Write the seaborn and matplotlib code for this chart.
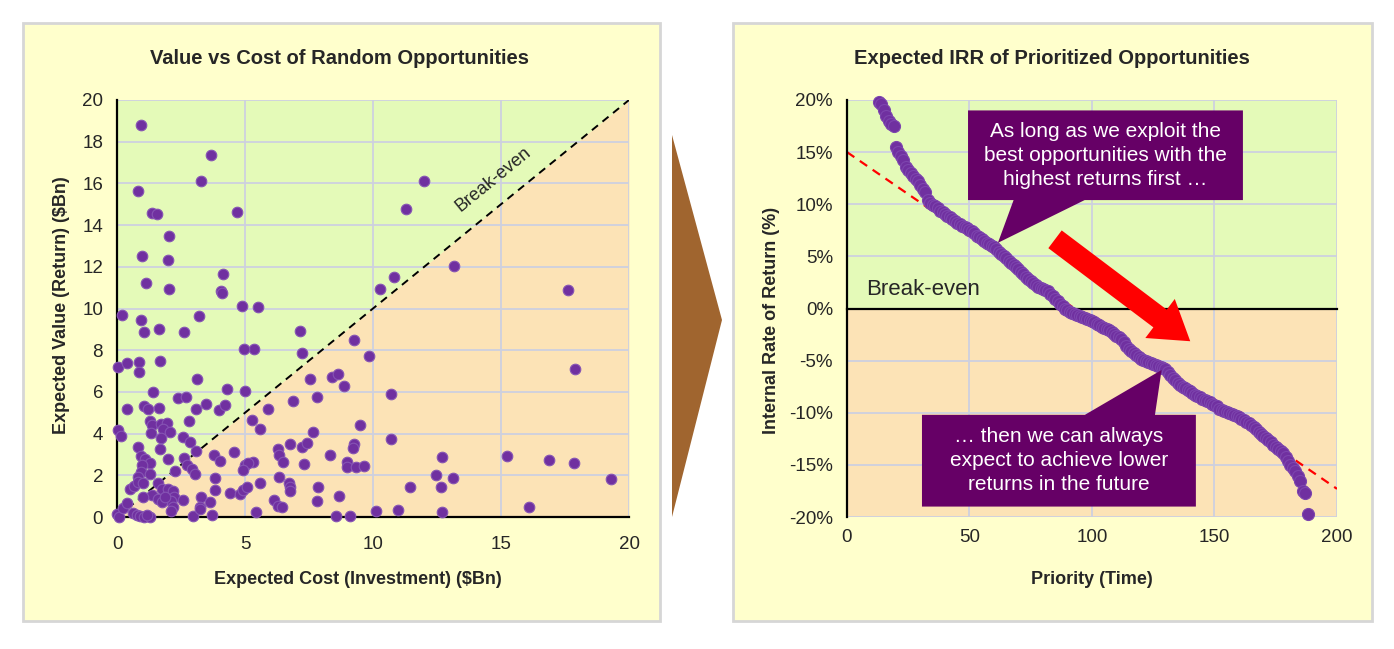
import numpy as np
import pandas as pd
import matplotlib.pyplot as plt
import seaborn as sns
from matplotlib.patches import Rectangle, Polygon

# ---- left chart: expected cost vs expected value ($Bn) ----
cost = [0.93, 3.67, 3.27, 0.82, 1.38, 1.57, 4.67, 2.04, 0.99, 1.98, 4.14, 1.15, 2.02, 4.07, 4.10, 4.87, 5.52,
        11.99, 11.30, 10.82, 10.27,
        13.16, 17.62, 17.90, 12.70, 15.25, 16.86, 17.84, 13.12, 12.66, 19.30, 16.10, 12.70,
        7.14, 5.36, 7.21, 9.26, 9.84, 7.54, 8.41, 8.65, 8.85, 10.72, 6.88, 7.82, 5.90, 5.26, 5.60, 9.50,
        7.64, 10.72, 6.77, 7.24, 7.41, 6.30, 6.34, 6.50, 5.30, 8.33, 7.32, 9.26, 9.22, 9.00, 8.97, 9.34,
        9.66, 12.45, 11.45, 5.60, 6.34, 6.72, 6.77, 6.77, 7.86, 8.66, 6.13, 6.30, 6.46, 7.82, 5.44, 8.55,
        9.10, 10.13, 10.96,
        0.18, 0.93, 3.21, 1.07, 1.63, 2.60, 4.97, 0.05, 0.38, 0.87, 0.86, 1.69, 3.14, 1.39, 2.37, 2.70,
        4.31, 5.01, 0.38, 1.04, 1.20, 1.65, 3.09, 3.48, 3.97, 4.23, 1.29, 1.35, 1.71, 1.96, 1.81, 2.07,
        1.34, 2.83, 0.03, 0.17, 1.73, 1.67, 2.57, 2.85, 3.07, 0.81, 0.93, 1.09, 1.29, 0.98, 1.99, 2.60,
        3.80, 4.02, 4.57, 0.93, 0.82, 1.29, 2.27, 2.72, 2.93, 3.06, 3.84, 4.99, 5.13, 4.93, 0.51, 0.68,
        0.81, 1.00, 1.61, 1.76, 1.99, 2.19, 2.23, 2.10, 2.18, 2.11, 1.37, 1.60, 1.76, 1.89, 1.00, 2.57,
        3.27, 3.23, 3.63, 3.84, 4.41, 4.80, 4.91, 5.07, 2.96, 3.24, 3.70, 0.00, 0.08, 0.25, 0.38, 0.61,
        0.77, 0.90, 1.07, 1.29, 1.16]
value = [18.80, 17.36, 16.10, 15.65, 14.58, 14.53, 14.63, 13.50, 12.53, 12.33, 11.64, 11.22, 10.92, 10.85, 10.73, 10.13, 10.09,
         16.10, 14.76, 11.53, 10.92,
         12.04, 10.87, 7.11, 2.88, 2.93, 2.73, 2.57, 1.89, 1.42, 1.82, 0.46, 0.25,
         8.90, 8.04, 7.85, 8.50, 7.71, 6.60, 6.70, 6.86, 6.28, 5.90, 5.55, 5.74, 5.20, 4.65, 4.22, 4.43,
         4.09, 3.73, 3.52, 3.37, 3.53, 3.25, 2.97, 2.62, 2.62, 2.99, 2.53, 3.50, 3.31, 2.62, 2.38, 2.38,
         2.45, 2.03, 1.42, 1.65, 1.93, 1.65, 1.45, 1.26, 1.45, 1.02, 0.82, 0.54, 0.46, 0.75, 0.24, 0.06,
         0.06, 0.27, 0.34,
         9.67, 9.46, 9.62, 8.86, 9.00, 8.89, 8.06, 7.21, 7.37, 7.42, 6.97, 7.50, 6.60, 6.00, 5.71, 5.74,
         6.14, 6.04, 5.20, 5.32, 5.17, 5.21, 5.17, 5.43, 5.13, 5.36, 4.62, 4.40, 4.45, 4.49, 4.22, 4.06,
         4.04, 4.62, 4.16, 3.87, 3.79, 3.28, 3.85, 3.61, 3.17, 3.36, 2.93, 2.77, 2.58, 2.49, 2.77, 2.83,
         2.99, 2.67, 3.12, 2.17, 1.93, 2.08, 2.22, 2.48, 2.29, 2.06, 1.89, 2.49, 2.58, 2.25, 1.33, 1.50,
         1.69, 1.62, 1.62, 1.33, 1.36, 1.25, 0.97, 0.77, 0.47, 0.30, 1.04, 0.88, 0.72, 0.94, 0.94, 0.82,
         0.96, 0.47, 0.72, 1.29, 1.14, 1.10, 1.29, 1.42, 0.05, 0.37, 0.10, 0.13, 0.01, 0.42, 0.66, 0.20,
         0.10, 0.05, 0.00, 0.00, 0.10]

# ---- right chart: IRR (%) of opportunities sorted by priority ----
priority = list(range(13, 189))
irr = [19.8, 19.6, 19.0, 18.5, 18.0, 17.7, 17.5, 15.5, 15.0, 14.6, 14.2, 13.6, 13.3, 13.0, 12.7, 12.4,
       12.2, 11.8, 11.5, 11.2, 10.4, 10.1, 9.9, 9.8, 9.6, 9.4, 9.3, 9.1, 8.9, 8.8, 8.6, 8.4,
       8.2, 8.1, 7.9, 7.8, 7.7, 7.5, 7.4, 7.2, 7.0, 6.9, 6.7, 6.5, 6.3, 6.2, 6.0, 5.9,
       5.7, 5.4, 5.2, 5.0, 4.8, 4.6, 4.4, 4.2, 4.0, 3.8, 3.5, 3.3, 3.0, 2.8, 2.6, 2.4,
       2.3, 2.1, 2.0, 1.9, 1.8, 1.7, 1.4, 1.2, 0.9, 0.7, 0.4, 0.2, 0.0, -0.1, -0.3, -0.4,
       -0.5, -0.6, -0.7, -0.8, -0.9, -1.0, -1.1, -1.2, -1.3, -1.5, -1.6, -1.8, -1.9, -2.0, -2.1, -2.3,
       -2.4, -2.6, -2.7, -2.9, -3.2, -3.6, -3.9, -4.1, -4.3, -4.5, -4.7, -4.8, -4.9, -5.0, -5.1, -5.2,
       -5.3, -5.4, -5.5, -5.6, -5.7, -5.8, -6.1, -6.4, -6.7, -6.9, -7.1, -7.3, -7.5, -7.6, -7.8, -7.9,
       -8.1, -8.3, -8.4, -8.5, -8.7, -8.8, -8.9, -9.0, -9.2, -9.3, -9.4, -9.6, -9.7, -9.8, -9.9, -10.0,
       -10.1, -10.2, -10.3, -10.4, -10.6, -10.7, -10.9, -11.0, -11.2, -11.4, -11.6, -11.8, -12.0, -12.2, -12.4, -12.6,
       -12.8, -13.1, -13.3, -13.5, -13.7, -13.9, -14.2, -14.6, -15.0, -15.3, -15.6, -16.1, -16.5, -17.5, -17.7, -19.7]
trend_x = [0, 200]
trend_y = [15.0, -17.3]

left_xticks = [0, 5, 10, 15, 20]
left_yticks = list(range(0, 21, 2))
right_xticks = [0, 50, 100, 150, 200]
right_yticks = [-20, -15, -10, -5, 0, 5, 10, 15, 20]

opps = pd.DataFrame({'cost': cost, 'value': value})
ranked = pd.DataFrame({'priority': priority, 'irr': irr})

GREEN = '#E4FAB8'
PEACH = '#FCE3B6'
PURPLE = '#7030A0'
GRID = '#CDD0DF'

sns.set_style('white')
plt.rcParams['font.family'] = ['Liberation Sans', 'DejaVu Sans']
narrow = ['Liberation Sans Narrow', 'Liberation Sans', 'DejaVu Sans']

W, H = 1394, 649
fig = plt.figure(figsize=(W / 100, H / 100), dpi=100)


def px_box(x0, y0, x1, y1):
    return [x0 / W, 1 - y1 / H, (x1 - x0) / W, (y1 - y0) / H]


# panel backgrounds and the brown arrow between them
for x0, x1 in [(23, 660), (733, 1372)]:
    fig.patches.append(Rectangle((x0 / W, 1 - 621 / H), (x1 - x0) / W, 598 / H,
                                 transform=fig.transFigure, facecolor='#FFFFCC',
                                 edgecolor='#D6D6D6', lw=2, zorder=-2))
fig.patches.append(Polygon([(672 / W, 1 - 135 / H), (722 / W, 1 - 320 / H), (672 / W, 1 - 517 / H)],
                           closed=True, transform=fig.transFigure, facecolor='#A0652F',
                           edgecolor='none', zorder=-2))

ax1 = fig.add_axes(px_box(117, 100, 629, 517))
ax2 = fig.add_axes(px_box(847, 100, 1337, 517))
for ax in (ax1, ax2):
    ax.patch.set_alpha(0)

# Left chart
ax1.fill_between([0, 20], [0, 20], 20, color=GREEN, lw=0, zorder=0)
ax1.fill_between([0, 20], 0, [0, 20], color=PEACH, lw=0, zorder=0)
ax1.set_axisbelow(True)
ax1.grid(True, color=GRID, lw=1.3)
ax1.plot([0, 20], [0, 20], color='black', ls='--', lw=1.4, dashes=(4, 3), zorder=2)
sns.scatterplot(data=opps, x='cost', y='value', ax=ax1, s=58, color=PURPLE,
                edgecolor='#8654B4', linewidth=0.8, zorder=3, clip_on=False)
ax1.text(14.7, 16.2, 'Break-even', rotation=39.2, rotation_mode='anchor',
         ha='center', va='center', fontsize=13)
ax1.set_xlim(0, 20)
ax1.set_ylim(0, 20)
ax1.set_xticks(left_xticks)
ax1.set_yticks(left_yticks)
ax1.set_xlabel('')
ax1.set_ylabel('')

# Right chart
ax2.axhspan(0, 20, color=GREEN, lw=0, zorder=0)
ax2.axhspan(-20, 0, color=PEACH, lw=0, zorder=0)
ax2.set_axisbelow(True)
ax2.grid(True, color=GRID, lw=1.3)
ax2.plot(trend_x, trend_y, color='red', ls='--', lw=1.6, dashes=(4, 3), zorder=2)
sns.scatterplot(data=ranked, x='priority', y='irr', ax=ax2, s=75, color=PURPLE,
                edgecolor='#7D45AE', linewidth=0.8, zorder=3, clip_on=False)
ax2.text(7.8, 1.8, 'Break-even', ha='left', va='center', fontsize=16)
ax2.set_xlim(0, 200)
ax2.set_ylim(-20, 20)
ax2.set_xticks(right_xticks)
ax2.set_yticks(right_yticks)
ax2.set_yticklabels([f'{v}%' for v in right_yticks])
ax2.set_xlabel('')
ax2.set_ylabel('')
ax2.spines['bottom'].set_position(('data', 0))
ax2.tick_params(axis='x', labelbottom=False)
secax = ax2.secondary_xaxis('bottom')
secax.set_xticks(right_xticks)
secax.tick_params(length=0, pad=9, labelsize=13.5)
secax.spines['bottom'].set_visible(False)
for lab in secax.get_xticklabels():
    lab.set_family(narrow)

for ax in (ax1, ax2):
    for side in ('top', 'right'):
        ax.spines[side].set_visible(False)
    for side in ('left', 'bottom'):
        ax.spines[side].set_color('black')
        ax.spines[side].set_linewidth(1.6)
        ax.spines[side].set_zorder(2.5)
    ax.tick_params(direction='out', length=5, width=1.5, color='black', labelsize=13.5, pad=5)
    for lab in ax.get_xticklabels() + ax.get_yticklabels():
        lab.set_family(narrow)
ax1.tick_params(axis='x', pad=9)

# callout boxes
top_box = [(49.4, 19.0), (161.6, 19.0), (161.6, 10.4), (97.0, 10.4), (61.6, 6.3),
           (68.0, 10.4), (49.4, 10.4)]
bottom_box = [(30.6, -10.2), (97.1, -10.2), (128.4, -5.9), (125.7, -10.2), (142.4, -10.2),
              (142.4, -19.0), (30.6, -19.0)]
for pts in (top_box, bottom_box):
    ax2.add_patch(Polygon(pts, closed=True, facecolor='#660066', edgecolor='none',
                          zorder=5, clip_on=False))
ax2.text(105.5, 14.7, 'As long as we exploit the\nbest opportunities with the\nhighest returns first \u2026',
         ha='center', va='center', color='white', fontsize=15, linespacing=1.35, zorder=6)
ax2.text(86.5, -14.6, '\u2026 then we can always\nexpect to achieve lower\nreturns in the future',
         ha='center', va='center', color='white', fontsize=15, linespacing=1.35, zorder=6)
ax2.annotate('', xy=(141.0, -3.3), xytext=(84.0, 6.8),
             arrowprops=dict(arrowstyle='simple,head_width=2.2,head_length=1.7,tail_width=1',
                             mutation_scale=16, color='#FF0000', lw=0), zorder=6)

# titles and axis labels
fig.text(340 / W, 1 - 58 / H, 'Value vs Cost of Random Opportunities', ha='center', va='center',
         fontsize=14.5, fontweight='bold', family=narrow)
fig.text(1052 / W, 1 - 58 / H, 'Expected IRR of Prioritized Opportunities', ha='center', va='center',
         fontsize=14.5, fontweight='bold', family=narrow)
fig.text(62 / W, 1 - 305 / H, 'Expected Value (Return) ($Bn)', rotation=90, ha='center', va='center',
         fontsize=13, fontweight='bold', family=narrow)
fig.text(358 / W, 1 - 580 / H, 'Expected Cost (Investment) ($Bn)', ha='center', va='center',
         fontsize=13, fontweight='bold', family=narrow)
fig.text(772 / W, 1 - 320 / H, 'Internal Rate of Return (%)', rotation=90, ha='center', va='center',
         fontsize=13, fontweight='bold', family=narrow)
fig.text(1092 / W, 1 - 580 / H, 'Priority (Time)', ha='center', va='center',
         fontsize=13, fontweight='bold', family=narrow)

fig.savefig('out.png', dpi=100, facecolor='white')
